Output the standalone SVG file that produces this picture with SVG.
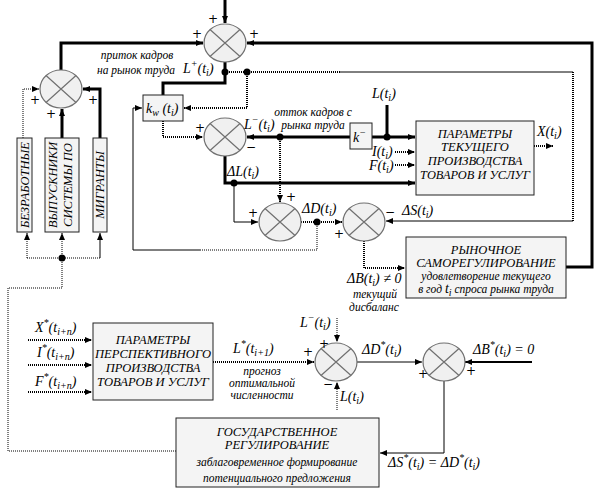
<svg xmlns="http://www.w3.org/2000/svg" width="596" height="492" viewBox="0 0 596 492" font-family="Liberation Serif, serif">
<style>
.k{stroke:#000;fill:none}
.th{stroke-width:3}
.tn{stroke-width:1}
.md{stroke-width:2}
.dt{stroke-width:2;stroke-dasharray:1 1}
.dn{stroke-width:1;stroke-dasharray:1 1}
.box{fill:#f4f4f4;stroke:#222;stroke-width:1}
text{font-family:"Liberation Serif",serif;fill:#000}
.t{font-style:italic;font-size:11.5px}
.m{font-style:italic;font-size:14px}
.b{font-style:italic;font-size:12.5px}
.s{font-size:10px}
.p{font-family:"DejaVu Serif",serif;font-size:12px;fill:#000}
</style>
<defs>
<marker id="a" markerWidth="8" markerHeight="8" refX="7" refY="4" orient="auto" markerUnits="userSpaceOnUse"><path d="M0,1 L7,4 L0,7 z" fill="#000"/></marker>
<g id="sj"><ellipse cx="0" cy="0" rx="21" ry="19" fill="#f0f0f0" stroke="#707070" stroke-width="1.2"/><path d="M-15,-13.5 L15,13.5 M15,-13.5 L-15,13.5" fill="none" stroke="#707070" stroke-width="1.2"/></g>
</defs>

<g id="connectors">
<path class="k th" d="M225,0 V23" marker-end="url(#a)"/>
<path class="k th" d="M61,70 V43 H203" marker-end="url(#a)"/>
<path class="k th" d="M566,267 H592 V43 H247" marker-end="url(#a)"/>
<path class="k th" d="M225,62 V83 H163 V95"/>
<path class="k dt" d="M225,72 H340"/>
<path class="k tn" d="M340,72 H573"/>
<path class="k dt" d="M573,72 V221"/>
<path class="k tn" d="M573,221 H386" marker-end="url(#a)"/>
<path class="k dt" d="M247,72 V108 H184" marker-end="url(#a)"/>
<path class="k dt" d="M163,121 V137 H203" marker-end="url(#a)"/>
<path class="k dn" d="M317,222 V250 H200"/>
<path class="k tn" d="M200,250 H133 V108 H142" marker-end="url(#a)"/>
<path class="k th" d="M350,137 H247" marker-end="url(#a)"/>
<path class="k th" d="M372,137 H415" marker-end="url(#a)"/>
<path class="k th" d="M387,105 V137"/>
<path class="k dt" d="M280,137 V202" marker-end="url(#a)"/>
<path class="k dt" d="M395,152 H415" marker-end="url(#a)"/>
<path class="k dt" d="M395,165 H415" marker-end="url(#a)"/>
<path class="k th" d="M225,156 V183 H415" marker-end="url(#a)"/>
<path class="k tn" d="M234,183 V222 H258" marker-end="url(#a)"/>
<path class="k dt" d="M301,222 H342" marker-end="url(#a)"/>
<path class="k dt" d="M364,241 V268 H405" marker-end="url(#a)"/>
<path class="k dt" d="M534,146 H553" marker-end="url(#a)"/>
<path class="k dn" d="M23,138 V89 H39" marker-end="url(#a)"/>
<path class="k th" d="M62,138 V109" marker-end="url(#a)"/>
<path class="k th" d="M100,138 V89 H83" marker-end="url(#a)"/>
<path class="k dn" d="M27,258 V233" marker-end="url(#a)"/>
<path class="k dn" d="M62,258 V233" marker-end="url(#a)"/>
<path class="k tn" d="M100,258 V233" marker-end="url(#a)"/>
<path class="k dn" d="M27,258 H100"/>
<path class="k dn" d="M62,258 V288 H8 V451 H176"/>
<path class="k dt" d="M28,340 H92" marker-end="url(#a)"/>
<path class="k dt" d="M28,365 H92" marker-end="url(#a)"/>
<path class="k dt" d="M28,392 H92" marker-end="url(#a)"/>
<path class="k dt" d="M213,362 H314" marker-end="url(#a)"/>
<path class="k dn" d="M337,318 V342" marker-end="url(#a)"/>
<path class="k dn" d="M337,410 V382" marker-end="url(#a)"/>
<path class="k tn" d="M357,362 H422" marker-end="url(#a)"/>
<path class="k md" d="M532,362 H465" marker-end="url(#a)"/>
<path class="k tn" d="M444,381 V453 H380" marker-end="url(#a)"/>
<g fill="#000">
<circle cx="225" cy="72" r="3.5"/><circle cx="247" cy="72" r="3.5"/>
<circle cx="280" cy="137" r="3.5"/><circle cx="387" cy="137" r="3.5"/>
<circle cx="234" cy="183" r="3.5"/><circle cx="317" cy="222" r="3.5"/>
<circle cx="62" cy="258" r="3.5"/>
</g>
</g>

<g id="s1"><use href="#sj" x="225" y="43"/>
<text class="p" x="208" y="23">+</text><text class="p" x="192" y="38">+</text><text class="p" x="249" y="38">+</text></g>
<g id="s0"><use href="#sj" x="61" y="89"/>
<text class="p" x="30" y="104">+</text><text class="p" x="46" y="118">+</text><text class="p" x="88" y="104">+</text></g>
<g id="s2"><use href="#sj" x="225" y="137"/>
<text class="p" x="195" y="132">+</text><text class="p" x="246" y="151">−</text></g>
<g id="s3"><use href="#sj" x="280" y="222"/>
<text class="p" x="286" y="201">+</text><text class="p" x="248" y="217">+</text></g>
<g id="s4"><use href="#sj" x="364" y="222"/>
<text class="p" x="334" y="238">+</text><text class="p" x="385" y="216">−</text></g>
<g id="s5"><use href="#sj" x="336" y="362"/>
<text class="p" x="319" y="348">+</text><text class="p" x="303" y="356">+</text><text class="p" x="323" y="388">−</text></g>
<g id="s6"><use href="#sj" x="444" y="362"/>
<text class="p" x="418" y="378">+</text><text class="p" x="466" y="375">+</text></g>

<g id="kw"><rect class="box" x="143" y="95" width="40" height="26"/>
<text class="m" x="146" y="113">k<tspan class="s" dy="3">w</tspan><tspan dy="-3"> (t</tspan><tspan class="s" dy="3">i</tspan><tspan dy="-3">)</tspan></text></g>
<g id="kminus"><rect class="box" x="350" y="123" width="22" height="26"/>
<text class="m" x="353" y="142">k<tspan class="s" dy="-6">−</tspan></text></g>

<g id="cur"><rect class="box" x="416" y="121" width="118" height="74"/>
<text class="b" text-anchor="middle" x="475" y="138">ПАРАМЕТРЫ</text>
<text class="b" text-anchor="middle" x="475" y="151">ТЕКУЩЕГО</text>
<text class="b" text-anchor="middle" x="475" y="165">ПРОИЗВОДСТВА</text>
<text class="b" text-anchor="middle" x="475" y="179" textLength="110" lengthAdjust="spacingAndGlyphs">ТОВАРОВ И УСЛУГ</text></g>

<g id="market"><rect class="box" x="406" y="237" width="160" height="61"/>
<text class="b" text-anchor="middle" x="486" y="254">РЫНОЧНОЕ</text>
<text class="b" text-anchor="middle" x="486" y="267">САМОРЕГУЛИРОВАНИЕ</text>
<text class="t" text-anchor="middle" x="486" y="280">удовлетворение текущего</text>
<text class="t" text-anchor="middle" x="486" y="293">в год <tspan class="m">t</tspan><tspan class="s" dy="3">i</tspan><tspan dy="-3"> спроса рынка труда</tspan></text></g>

<g id="unemp"><rect class="box" x="17" y="138" width="15" height="94"/>
<text class="b" text-anchor="middle" transform="translate(29,185) rotate(-90)" textLength="86" lengthAdjust="spacingAndGlyphs">БЕЗРАБОТНЫЕ</text></g>
<g id="grad"><rect class="box" x="45" y="138" width="34" height="94"/>
<text class="b" text-anchor="middle" transform="translate(57,185) rotate(-90)" textLength="86" lengthAdjust="spacingAndGlyphs">ВЫПУСКНИКИ</text>
<text class="b" text-anchor="middle" transform="translate(72,185) rotate(-90)" textLength="84" lengthAdjust="spacingAndGlyphs">СИСТЕМЫ ПО</text></g>
<g id="migr"><rect class="box" x="93" y="138" width="14" height="94"/>
<text class="b" text-anchor="middle" transform="translate(104,185) rotate(-90)">МИГРАНТЫ</text></g>

<g id="persp"><rect class="box" x="93" y="323" width="120" height="77"/>
<text class="b" text-anchor="middle" x="153" y="344">ПАРАМЕТРЫ</text>
<text class="b" text-anchor="middle" x="153" y="358" textLength="116" lengthAdjust="spacingAndGlyphs">ПЕРСПЕКТИВНОГО</text>
<text class="b" text-anchor="middle" x="153" y="372">ПРОИЗВОДСТВА</text>
<text class="b" text-anchor="middle" x="153" y="386" textLength="112" lengthAdjust="spacingAndGlyphs">ТОВАРОВ  И УСЛУГ</text></g>

<g id="gov"><rect class="box" x="176" y="418" width="203" height="69"/>
<text class="b" text-anchor="middle" x="277" y="436">ГОСУДАРСТВЕННОЕ</text>
<text class="b" text-anchor="middle" x="277" y="449">РЕГУЛИРОВАНИЕ</text>
<text class="t" text-anchor="middle" x="277" y="466">заблаговременное  формирование</text>
<text class="t" text-anchor="middle" x="277" y="482">потенциального предложения</text></g>

<g id="labels">
<text class="t" text-anchor="middle" x="137" y="59">приток кадров</text>
<text class="t" text-anchor="middle" x="136" y="74">на рынок труда</text>
<text class="m" x="183" y="73">L<tspan class="s" dy="-6">+</tspan><tspan dy="6">(t</tspan><tspan class="s" dy="3">i</tspan><tspan dy="-3">)</tspan></text>
<text class="m" x="244" y="129">L<tspan class="s" dy="-6">−</tspan><tspan dy="6">(t</tspan><tspan class="s" dy="3">i</tspan><tspan dy="-3">)</tspan></text>
<text class="t" text-anchor="middle" x="313" y="116">отток кадров с</text>
<text class="t" text-anchor="middle" x="313" y="129">рынка труда</text>
<text class="m" x="372" y="98">L(t<tspan class="s" dy="3">i</tspan><tspan dy="-3">)</tspan></text>
<text class="m" x="372" y="156">I(t<tspan class="s" dy="3">i</tspan><tspan dy="-3">)</tspan></text>
<text class="m" x="369" y="170">F(t<tspan class="s" dy="3">i</tspan><tspan dy="-3">)</tspan></text>
<text class="m" x="537" y="136">X(t<tspan class="s" dy="3">i</tspan><tspan dy="-3">)</tspan></text>
<text class="m" x="227" y="176">ΔL(t<tspan class="s" dy="3">i</tspan><tspan dy="-3">)</tspan></text>
<text class="m" x="302" y="213">ΔD(t<tspan class="s" dy="3">i</tspan><tspan dy="-3">)</tspan></text>
<text class="m" x="402" y="215">ΔS(t<tspan class="s" dy="3">i</tspan><tspan dy="-3">)</tspan></text>
<text class="m" x="347" y="283">ΔB(t<tspan class="s" dy="3">i</tspan><tspan dy="-3">) ≠ 0</tspan></text>
<text class="t" text-anchor="middle" x="375" y="298">текущий</text>
<text class="t" text-anchor="middle" x="374" y="311">дисбаланс</text>
<text class="m" x="35" y="332">X<tspan class="s" dy="-6">*</tspan><tspan dy="6">(t</tspan><tspan class="s" dy="3">i+n</tspan><tspan dy="-3">)</tspan></text>
<text class="m" x="37" y="357">I<tspan class="s" dy="-6">*</tspan><tspan dy="6">(t</tspan><tspan class="s" dy="3">i+n</tspan><tspan dy="-3">)</tspan></text>
<text class="m" x="35" y="386">F<tspan class="s" dy="-6">*</tspan><tspan dy="6">(t</tspan><tspan class="s" dy="3">i+n</tspan><tspan dy="-3">)</tspan></text>
<text class="m" x="233" y="353">L<tspan class="s" dy="-6">*</tspan><tspan dy="6">(t</tspan><tspan class="s" dy="3">i+1</tspan><tspan dy="-3">)</tspan></text>
<text class="t" text-anchor="middle" x="262" y="375">прогноз</text>
<text class="t" text-anchor="middle" x="262" y="387">оптимальной</text>
<text class="t" text-anchor="middle" x="262" y="399">численности</text>
<text class="m" x="300" y="327">L<tspan class="s" dy="-6">−</tspan><tspan dy="6">(t</tspan><tspan class="s" dy="3">i</tspan><tspan dy="-3">)</tspan></text>
<text class="m" x="340" y="401">L(t<tspan class="s" dy="3">i</tspan><tspan dy="-3">)</tspan></text>
<text class="m" x="362" y="354">ΔD<tspan class="s" dy="-6">*</tspan><tspan dy="6">(t</tspan><tspan class="s" dy="3">i</tspan><tspan dy="-3">)</tspan></text>
<text class="m" x="473" y="354">ΔB<tspan class="s" dy="-6">*</tspan><tspan dy="6">(t</tspan><tspan class="s" dy="3">i</tspan><tspan dy="-3">) = 0</tspan></text>
<text class="m" x="388" y="467">ΔS<tspan class="s" dy="-6">*</tspan><tspan dy="6">(t</tspan><tspan class="s" dy="3">i</tspan><tspan dy="-3">) = ΔD</tspan><tspan class="s" dy="-6">*</tspan><tspan dy="6">(t</tspan><tspan class="s" dy="3">i</tspan><tspan dy="-3">)</tspan></text>
</g>
</svg>
